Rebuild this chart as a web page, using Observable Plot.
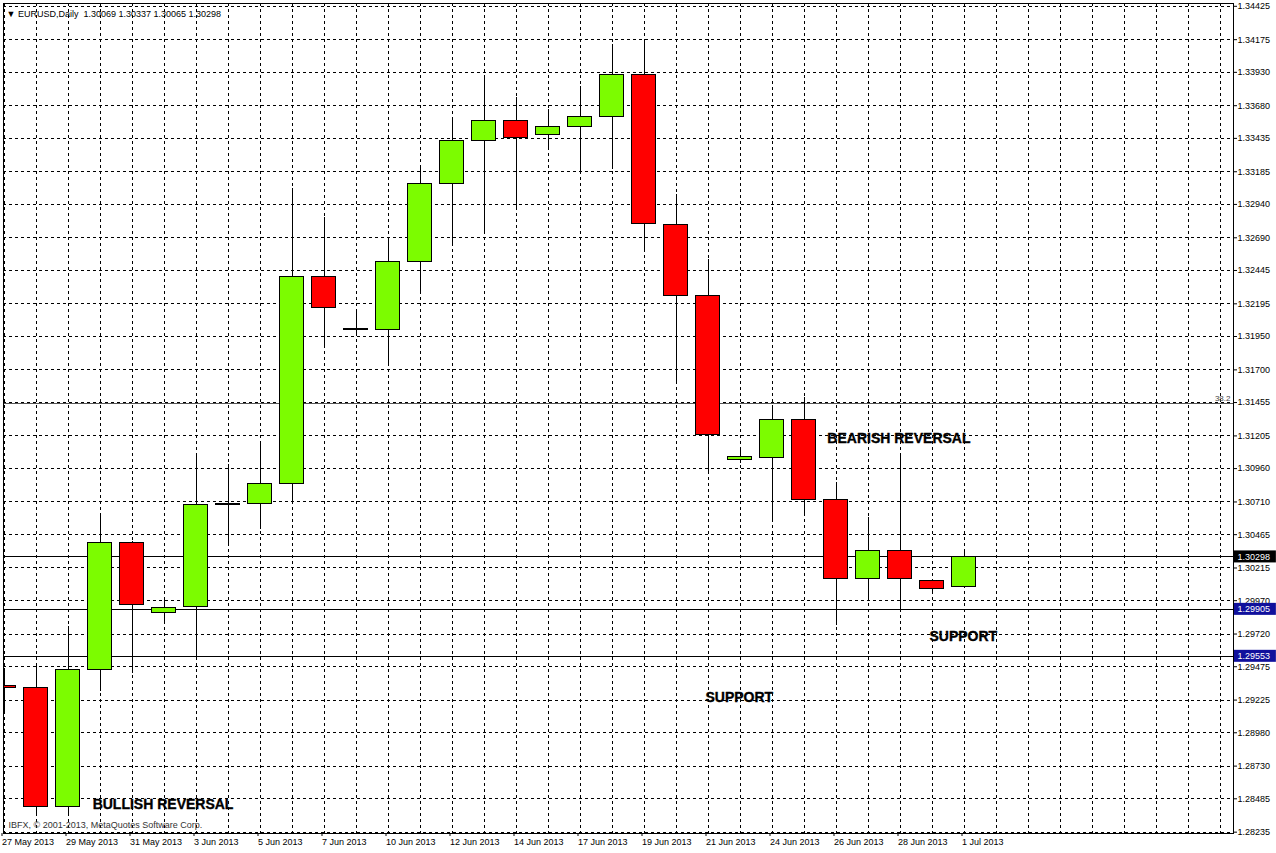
<!DOCTYPE html>
<html>
<head>
<meta charset="utf-8">
<script src="https://cdn.jsdelivr.net/npm/d3@7"></script>
<script src="https://cdn.jsdelivr.net/npm/@observablehq/plot@0.6"></script>
<style>
  html, body { margin: 0; padding: 0; background: #fff; }
  #chart svg { display: block; }
</style>
</head>
<body>
<div id="chart"></div>
<script>
// ---- Data (EURUSD, Daily) ----
const symbol = "EURUSD,Daily";
const dates = [
  "2013-05-27","2013-05-28","2013-05-29","2013-05-30","2013-05-31","2013-06-02",
  "2013-06-03","2013-06-04","2013-06-05","2013-06-06","2013-06-07","2013-06-09",
  "2013-06-10","2013-06-11","2013-06-12","2013-06-13","2013-06-14","2013-06-16",
  "2013-06-17","2013-06-18","2013-06-19","2013-06-20","2013-06-21","2013-06-23",
  "2013-06-24","2013-06-25","2013-06-26","2013-06-27","2013-06-28","2013-06-30",
  "2013-07-01"
];
const open = [
  1.29331, 1.29316, 1.28422, 1.29447, 1.30399, 1.29878,
  1.29926, 1.30689, 1.30698, 1.30841, 1.32396, 1.32000,
  1.32002, 1.32507, 1.33096, 1.33419, 1.33563, 1.33463,
  1.33520, 1.33598, 1.33910, 1.32789, 1.32257, 1.31021,
  1.31040, 1.31328, 1.30728, 1.30136, 1.30341, 1.30116,
  1.30069
];
const high = [
  1.29464, 1.29490, 1.29779, 1.30626, 1.30416, 1.29991,
  1.31068, 1.30993, 1.31165, 1.33063, 1.32839, 1.32154,
  1.32689, 1.33226, 1.33586, 1.33893, 1.33738, 1.33653,
  1.33825, 1.34140, 1.34163, 1.33016, 1.32529, 1.31115,
  1.31427, 1.31490, 1.30853, 1.30590, 1.31053, 1.30131,
  1.30337
];
const low = [
  1.29127, 1.28370, 1.28365, 1.29292, 1.29427, 1.29816,
  1.29541, 1.30378, 1.30506, 1.30693, 1.31864, 1.31952,
  1.31727, 1.32282, 1.32641, 1.32716, 1.32904, 1.33353,
  1.33166, 1.33203, 1.32589, 1.31592, 1.30940, 1.31000,
  1.30566, 1.30611, 1.29786, 1.29966, 1.29906, 1.30041,
  1.30065
];
const close = [
  1.29316, 1.28422, 1.29447, 1.30399, 1.29941, 1.29916,
  1.30686, 1.30697, 1.30848, 1.32396, 1.32160, 1.32004,
  1.32507, 1.33096, 1.33419, 1.33563, 1.33438, 1.33520,
  1.33598, 1.33910, 1.32797, 1.32257, 1.31215, 1.31045,
  1.31328, 1.30728, 1.30136, 1.30341, 1.30136, 1.30054,
  1.30298
];

// price-axis tick labels
const yTicks = [
  1.34425, 1.34175, 1.33930, 1.33680, 1.33435, 1.33185, 1.32940, 1.32690,
  1.32445, 1.32195, 1.31950, 1.31700, 1.31455, 1.31205, 1.30960, 1.30710,
  1.30465, 1.30215, 1.29970, 1.29720, 1.29475, 1.29225, 1.28980, 1.28730,
  1.28485, 1.28235
];

// horizontal levels
const levelPrices = [1.30298, 1.29905, 1.29553];
const levelKinds  = ["bid", "support", "support"];
const fibPrice = 1.31450;
const fibLabel = "38.2";

// annotations: text, bar position (index), price
const noteTexts  = ["BULLISH REVERSAL", "BEARISH REVERSAL", "SUPPORT", "SUPPORT"];
const noteBars   = [2.77, 25.73, 21.92, 28.92];
const notePrices = [1.28445, 1.31188, 1.29247, 1.29704];

const copyright = "IBFX, \u00A9 2001-2013, MetaQuotes Software Corp.";

// ---- Build tables ----
const parse = d3.utcParse("%Y-%m-%d");
const fmtDate = d3.utcFormat("%-d %b %Y");
const fmtP = d3.format(".5f");

const bars = dates.map((d, i) => ({
  i, date: parse(d), o: open[i], h: high[i], l: low[i], c: close[i]
}));
const levels = levelPrices.map((p, k) => ({p, kind: levelKinds[k]}));
const notes = noteTexts.map((t, k) => ({t, x: noteBars[k], y: notePrices[k]}));
const last = bars[bars.length - 1];
const headerText = `\u25BC ${symbol}  ${fmtP(last.o)} ${fmtP(last.h)} ${fmtP(last.l)} ${fmtP(last.c)}`;

const W = 1276, H = 853;
const mL = 3, mR = 43, mT = 3, mB = 20;
const barPx = 32;
const xDom = [-0.5 / barPx, (W - mR - mL - 0.5) / barPx];
const gridIdx = d3.range(0, Math.floor(xDom[1]) + 1);
const labelIdx = d3.range(0, bars.length, 2);
const bodyHalf = 0.375;
const boxHalf = 0.00045;

const BULL = "#7CFC00", BEAR = "#FF0000";
const levelFill = k => k === "bid" ? "#000000" : "#10109C";
const crisp = "crispEdges";

const chart = Plot.plot({
  width: W,
  height: H,
  marginLeft: mL,
  marginRight: mR,
  marginTop: mT,
  marginBottom: mB,
  style: {background: "#fff", fontFamily: "'Liberation Sans', Arial, sans-serif", fontSize: "9px", color: "#000"},
  x: {type: "linear", domain: xDom, axis: null},
  y: {type: "linear", domain: [1.28225, 1.34446], axis: null},
  color: {type: "identity"},
  marks: [
    // grid
    Plot.ruleY(yTicks, {stroke: "#000", strokeDasharray: "3,3", shapeRendering: crisp}),
    Plot.ruleX(gridIdx, {stroke: "#000", strokeDasharray: "3,3", shapeRendering: crisp}),
    // fibonacci level
    Plot.ruleY([fibPrice], {stroke: "#555", shapeRendering: crisp}),
    Plot.text([fibLabel], {frameAnchor: "right", y: () => fibPrice, text: d => d, dx: -3, dy: -5, textAnchor: "end", fill: "#444", fontSize: 8}),
    // price levels
    Plot.ruleY(levels, {y: "p", stroke: "#000", shapeRendering: crisp}),
    // candles
    Plot.ruleX(bars, {x: "i", y1: "l", y2: "h", stroke: "#000", clip: true, shapeRendering: crisp}),
    Plot.rect(bars, {
      x1: d => d.i - bodyHalf, x2: d => d.i + bodyHalf,
      y1: "o", y2: "c",
      fill: d => d.c >= d.o ? BULL : BEAR,
      stroke: "#000", strokeWidth: 1, clip: true, shapeRendering: crisp
    }),
    // annotations
    Plot.text(notes, {x: "x", y: "y", text: "t", textAnchor: "start", fontSize: 14, fontWeight: "bold", fill: "#000", stroke: "#000", strokeWidth: 0.35}),
    // header and copyright
    Plot.text([headerText], {frameAnchor: "top-left", text: d => d, dx: 3, dy: 7, fill: "#000", fontSize: 9}),
    Plot.text([copyright], {frameAnchor: "bottom-left", text: d => d, dx: 5, dy: -6, fill: "#333", fontSize: 9}),
    // axes
    Plot.axisY(yTicks, {anchor: "right", tickFormat: fmtP, tickSize: 3, tickPadding: 1, fontSize: 9}),
    Plot.axisX(labelIdx, {anchor: "bottom", tickFormat: i => fmtDate(bars[i].date), textAnchor: "start", dx: -2, tickSize: 3, tickPadding: 2, fontSize: 9}),
    // level labels on price axis
    Plot.rect(levels, {x1: () => xDom[1] + 0.03, x2: () => xDom[1] + 1.34, y1: d => d.p - boxHalf, y2: d => d.p + boxHalf, fill: d => levelFill(d.kind)}),
    Plot.text(levels, {x: () => xDom[1], y: "p", text: d => fmtP(d.p), dx: 4, textAnchor: "start", fill: "#fff", fontSize: 9}),
    Plot.frame({stroke: "#000", shapeRendering: crisp})
  ]
});
document.getElementById("chart").append(chart);
</script>
</body>
</html>
